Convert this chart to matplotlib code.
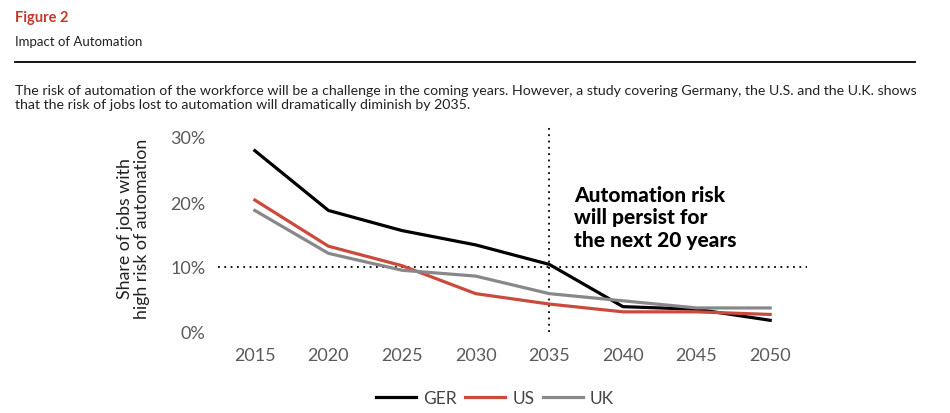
import matplotlib.pyplot as plt

years = [2015, 2020, 2025, 2030, 2035, 2040, 2045, 2050]
ger = [27.9, 18.7, 15.6, 13.4, 10.4, 3.9, 3.5, 1.8]
us = [20.3, 13.2, 10.2, 5.9, 4.3, 3.1, 3.1, 2.7]
uk = [18.7, 12.1, 9.5, 8.6, 5.9, 4.8, 3.7, 3.7]
y_ticks = [0, 10, 20, 30]
y_tick_labels = ['0%', '10%', '20%', '30%']

plt.rcParams['font.family'] = ['Lato', 'DejaVu Sans']

fig = plt.figure(figsize=(9.5, 4.14), dpi=100)

# header
fig.text(15 / 950, 1 - 18 / 414, 'Figure 2', color='#c0392b', fontsize=10.5,
         fontweight='bold', va='center', ha='left')
fig.text(15 / 950, 1 - 42 / 414, 'Impact of Automation', color='#222222', fontsize=9.5,
         va='center', ha='left')
fig.add_artist(plt.Line2D([15 / 950, 915 / 950], [1 - 63 / 414, 1 - 63 / 414],
                          color='black', lw=1.3, transform=fig.transFigure))
fig.text(15 / 950, 1 - 98 / 414,
         'The risk of automation of the workforce will be a challenge in the coming years. '
         'However, a study covering Germany, the U.S. and the U.K. shows\n'
         'that the risk of jobs lost to automation will dramatically diminish by 2035.',
         color='#222222', fontsize=10.2, va='center', ha='left', linespacing=1.2)

ax = fig.add_axes([218 / 950, 1 - 333 / 414, 589 / 950, 208 / 414])
ax.plot(years, ger, color='black', lw=2.3, label='GER')
ax.plot(years, us, color='#cc4a3c', lw=2.3, label='US')
ax.plot(years, uk, color='#888888', lw=2.3, label='UK')

ax.axhline(10, color='black', lw=1.3, ls=(0, (1, 2.5)), zorder=0)
ax.axvline(2035, color='black', lw=1.3, ls=(0, (1, 2.5)), zorder=0)

ax.text(2036.7, 17.7, 'Automation risk\nwill persist for\nthe next 20 years',
        fontsize=15, fontweight='black', color='black', va='center', ha='left',
        linespacing=1.2)

ax.set_xlim(2012.5, 2052.5)
ax.set_ylim(0, 32)
ax.set_xticks(years)
ax.set_yticks(y_ticks)
ax.set_yticklabels(y_tick_labels)
ax.tick_params(axis='both', length=0, labelsize=13, colors='#5a5a5a')
ax.tick_params(axis='x', pad=11)
ax.tick_params(axis='y', pad=9)
for s in ax.spines.values():
    s.set_visible(False)

ax.set_ylabel('Share of jobs with\nhigh risk of automation', fontsize=12.8,
              color='#222222', linespacing=1.1)
ax.yaxis.set_label_coords(-0.115, 0.5)

fig.legend(loc='center', bbox_to_anchor=(495 / 950, 1 - 399 / 414), ncol=3,
           frameon=False, fontsize=12.5, handlelength=2.3, handletextpad=0.4,
           columnspacing=0.5, labelcolor='#444444')

fig.savefig('out.png', dpi=100)
